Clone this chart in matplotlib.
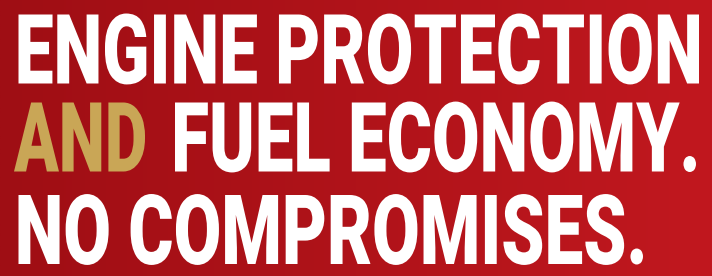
import numpy as np
import matplotlib
matplotlib.use("Agg")
import matplotlib.pyplot as plt
from matplotlib import patheffects
from matplotlib.font_manager import FontProperties
from matplotlib.textpath import TextPath
from matplotlib.transforms import Affine2D

W, H = 712, 276
DPI = 100

# headline pieces and their colours
pieces = ["ENGINE PROTECTION", "AND", "FUEL ECONOMY.", "NO COMPROMISES."]
piece_colors = ["#FFFFFF", "#C9A656", "#FFFFFF", "#FFFFFF"]

# where each piece's ink sits (pixels): left, right, baseline
lefts = [18.5, 14, 175, 18.5]
rights = [699, 145, 696, 643]
baselines = [83.5, 171.5, 171.5, 264]
cap_h = 69

bg_left = "#9F0E14"
bg_right = "#C1181F"


class Reshape(patheffects.AbstractPathEffect):
    # scale glyphs about the text origin to get a condensed look
    def __init__(self, sx=1.0, sy=1.0):
        super().__init__()
        self.sx = sx
        self.sy = sy

    def draw_path(self, renderer, gc, tpath, affine, rgbFace=None):
        m = affine.get_matrix().copy()
        m[:, 0] *= self.sx
        m[:, 1] *= self.sy
        renderer.draw_path(gc, tpath, Affine2D(m), rgbFace)


fp = FontProperties(family="Roboto", weight="black")

fig = plt.figure(figsize=(W / DPI, H / DPI), dpi=DPI)
ax = fig.add_axes([0, 0, 1, 1])
ax.set_xlim(0, W)
ax.set_ylim(H, 0)
ax.axis("off")

# background gradient
c0 = np.array(matplotlib.colors.to_rgb(bg_left))
c1 = np.array(matplotlib.colors.to_rgb(bg_right))
t = np.linspace(0, 1, 256)[None, :, None]
grad = c0 + (c1 - c0) * t
grad = np.repeat(grad, 2, axis=0)
ax.imshow(grad, extent=(0, W, H, 0), aspect="auto", interpolation="bilinear")

renderer = fig.canvas.get_renderer()

# full font size from cap height
e_ext = TextPath((0, 0), "E", size=100, prop=fp).get_extents()
fs_px = cap_h / (e_ext.height / 100)

for s, col, l, r, b in zip(pieces, piece_colors, lefts, rights, baselines):
    ext = TextPath((0, 0), s, size=fs_px, prop=fp).get_extents()
    fs_w = fs_px * (r - l) / ext.width      # size that fits the width
    ext_w = TextPath((0, 0), s, size=fs_w, prop=fp).get_extents()
    x = l - ext_w.x0
    txt = ax.text(x, b, s, color=col, fontproperties=fp,
                  fontsize=fs_w * 72 / DPI, ha="left", va="baseline")
    # keep the text box inside the picture (descent near the bottom edge)
    bb = txt.get_window_extent(renderer)
    base_disp = H - b
    k = 1.0
    if bb.y0 < 1:
        k = (base_disp - 1) / (base_disp - bb.y0)
        txt.set_fontsize(fs_w * k * 72 / DPI)
    txt.set_path_effects([Reshape(sx=1 / k, sy=fs_px / (fs_w * k))])

fig.savefig("out.png", dpi=DPI)
